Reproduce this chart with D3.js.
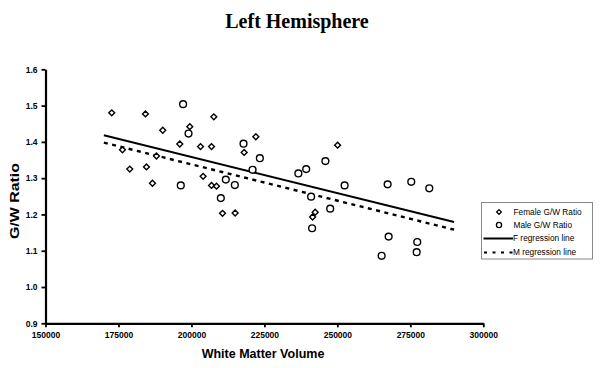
<!DOCTYPE html>
<html><head><meta charset="utf-8">
<script src="https://cdn.jsdelivr.net/npm/d3@7"></script>
<style>body{margin:0;background:#fff}svg{display:block}</style>
</head><body><svg id="c" width="600" height="368"></svg>
<script>
const title = "Left Hemisphere";
const xLabel = "White Matter Volume";
const yLabel = "G/W Ratio";
const xTicks = [150000,175000,200000,225000,250000,275000,300000];
const yTicks = [0.9,1.0,1.1,1.2,1.3,1.4,1.5,1.6];
const femaleX = [172700,184250,190180,199440,196010,176370,188020,178870,184590,186650,207670,203110,206880,218060,222070,204000,206880,208590,210650,214970,250080,242400,241510];
const femaleY = [1.480,1.477,1.432,1.442,1.394,1.378,1.361,1.325,1.331,1.286,1.469,1.387,1.387,1.371,1.414,1.305,1.280,1.278,1.203,1.204,1.391,1.206,1.193];
const maleX = [197140,199000,196350,217850,223440,220940,211780,214870,210070,245900,236640,239320,252480,241000,247540,241340,267220,275320,281490,267570,277370,277170,265170];
const maleY = [1.504,1.423,1.280,1.395,1.355,1.323,1.296,1.281,1.245,1.347,1.313,1.325,1.280,1.249,1.216,1.162,1.283,1.290,1.272,1.139,1.124,1.096,1.086];
const regX = [170000,290000];
const fRegY = [1.418,1.179];
const mRegY = [1.398,1.158];
const legendLabels = ["Female G/W Ratio","Male G/W Ratio","F regression line","M regression line"];

const svg = d3.select("#c");
const x = d3.scaleLinear().domain([150000,300000]).range([45.5,483.3]);
const y = d3.scaleLinear().domain([0.9,1.6]).range([323.3,69.3]);
const sans = "'Liberation Sans', Arial, sans-serif";

svg.append("text").attr("x",297).attr("y",27.5).attr("text-anchor","middle")
  .attr("font-family","'Liberation Serif','Times New Roman',serif").attr("font-weight","bold")
  .attr("font-size",20).text(title);

// axes
const xAxis = svg.append("g").attr("transform","translate(0,"+y(0.9)+")")
  .call(d3.axisBottom(x).tickValues(xTicks).tickFormat(d3.format("d")).tickSize(4).tickSizeOuter(0));
const yAxis = svg.append("g").attr("transform","translate("+x(150000)+",0)")
  .call(d3.axisLeft(y).tickValues(yTicks).tickFormat(d3.format(".1f")).tickSize(4).tickSizeOuter(0));
[xAxis,yAxis].forEach(g=>{
  g.select(".domain").attr("stroke","#000").attr("stroke-width",2.2);
  g.selectAll(".tick line").attr("stroke","#000").attr("stroke-width",1.8);
  g.selectAll(".tick text").attr("font-family",sans).attr("font-weight","bold")
    .attr("font-size",8.5).attr("fill","#000");
});
xAxis.selectAll(".tick text").attr("dy","0.9em");
yAxis.selectAll(".tick text").attr("x",-8);

svg.append("text").attr("x",263).attr("y",358).attr("text-anchor","middle")
  .attr("font-family",sans).attr("font-weight","bold").attr("font-size",12.5).text(xLabel);
svg.append("text").attr("transform","translate(19,201) rotate(-90)").attr("text-anchor","middle")
  .attr("font-family",sans).attr("font-weight","bold").attr("font-size",12)
  .attr("textLength",76).attr("lengthAdjust","spacingAndGlyphs").text(yLabel);

// regression lines
const line = d3.line().x(d=>x(d[0])).y(d=>y(d[1]));
svg.append("path").datum(d3.zip(regX,fRegY)).attr("d",line)
  .attr("stroke","#000").attr("stroke-width",2).attr("fill","none");
svg.append("path").datum(d3.zip(regX,mRegY)).attr("d",line)
  .attr("stroke","#000").attr("stroke-width",2.4).attr("stroke-dasharray","4,4.5").attr("fill","none");

// points
const diamond = d3.symbol().type(d3.symbolDiamond2).size(22);
svg.append("g").selectAll("path").data(d3.zip(femaleX,femaleY)).join("path")
  .attr("d",diamond).attr("transform",d=>"translate("+x(d[0])+","+y(d[1])+")")
  .attr("fill","#fff").attr("stroke","#000").attr("stroke-width",1.4);
svg.append("g").selectAll("circle").data(d3.zip(maleX,maleY)).join("circle")
  .attr("cx",d=>x(d[0])).attr("cy",d=>y(d[1])).attr("r",3.4)
  .attr("fill","#fff").attr("stroke","#000").attr("stroke-width",1.4);

// legend
const lg = svg.append("g");
lg.append("rect").attr("x",481.5).attr("y",202.5).attr("width",111).attr("height",56.5)
  .attr("fill","#fff").attr("stroke","#888").attr("stroke-width",1);
const ly = [212,225,238.5,252.5];
lg.append("path").attr("d",d3.symbol().type(d3.symbolDiamond2).size(14)())
  .attr("transform","translate(499,"+ly[0]+")").attr("fill","#fff").attr("stroke","#000").attr("stroke-width",1.3);
lg.append("circle").attr("cx",499).attr("cy",ly[1]).attr("r",2.6)
  .attr("fill","#fff").attr("stroke","#000").attr("stroke-width",1.3);
lg.append("line").attr("x1",483.5).attr("x2",513).attr("y1",ly[2]).attr("y2",ly[2])
  .attr("stroke","#000").attr("stroke-width",2);
lg.append("line").attr("x1",484).attr("x2",513).attr("y1",ly[3]).attr("y2",ly[3])
  .attr("stroke","#000").attr("stroke-width",2).attr("stroke-dasharray","3,5.5");
lg.selectAll("text.l").data(legendLabels).join("text").attr("class","l")
  .attr("x",(d,i)=> i<2 ? 513.5 : 513).attr("y",(d,i)=>ly[i]).attr("dy","0.35em")
  .attr("font-family",sans).attr("font-size",8.3).attr("fill","#000").text(d=>d);
</script></body></html>
